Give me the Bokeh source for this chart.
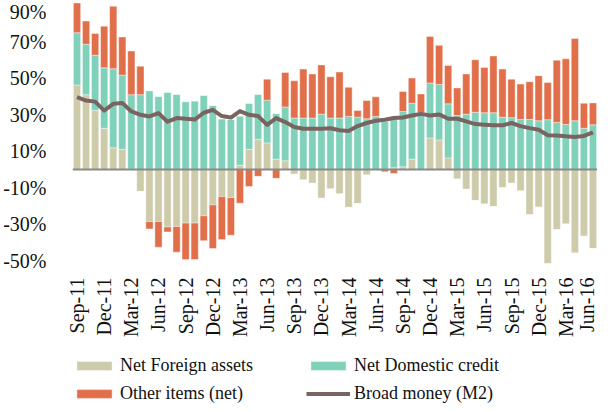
import numpy as np
from math import pi
from bokeh.plotting import figure
from bokeh.layouts import column
from bokeh.models import (FixedTicker, Span, Legend, LegendItem, Range1d,
                          PrintfTickFormatter, ColumnDataSource)
from bokeh.embed import file_html
from bokeh.resources import INLINE

months = ["Sep-11", "Oct-11", "Nov-11", "Dec-11", "Jan-12", "Feb-12", "Mar-12", "Apr-12",
          "May-12", "Jun-12", "Jul-12", "Aug-12", "Sep-12", "Oct-12", "Nov-12", "Dec-12",
          "Jan-13", "Feb-13", "Mar-13", "Apr-13", "May-13", "Jun-13", "Jul-13", "Aug-13",
          "Sep-13", "Oct-13", "Nov-13", "Dec-13", "Jan-14", "Feb-14", "Mar-14", "Apr-14",
          "May-14", "Jun-14", "Jul-14", "Aug-14", "Sep-14", "Oct-14", "Nov-14", "Dec-14",
          "Jan-15", "Feb-15", "Mar-15", "Apr-15", "May-15", "Jun-15", "Jul-15", "Aug-15",
          "Sep-15", "Oct-15", "Nov-15", "Dec-15", "Jan-16", "Feb-16", "Mar-16", "Apr-16",
          "May-16", "Jun-16"]

net_foreign = [46.3, 41.0, 32.3, 22.6, 11.9, 11.1, 0.3, -12.0, -28.4, -28.4, -31.4, -31.1,
               -29.3, -29.3, -25.3, -19.3, -14.8, -15.3, 2.4, 11.1, 16.6, 14.6, 5.7, 4.8,
               -2.6, -5.7, -7.5, -15.7, -10.6, -13.3, -20.7, -18.6, -3.0, 0.0, 0.0, 1.0,
               1.5, 5.7, 0.0, 17.3, 16.2, 6.4, -5.2, -10.8, -16.9, -18.9, -20.2, -9.9,
               -7.5, -11.7, -24.7, -20.6, -51.5, -32.9, -29.8, -45.7, -36.5, -43.2]

net_domestic = [28.6, 27.6, 30.3, 33.1, 43.3, 40.6, 40.7, 41.0, 43.2, 40.1, 42.3, 41.2,
                37.2, 37.6, 40.7, 35.1, 27.8, 27.4, 26.9, 25.2, 24.6, 23.4, 25.0, 29.5,
                28.2, 28.2, 28.2, 30.3, 28.2, 28.2, 29.1, 28.7, 27.8, 29.1, 26.4, 26.4,
                30.3, 30.6, 31.1, 30.1, 30.4, 29.6, 29.6, 30.3, 31.4, 31.1, 31.1, 28.7,
                28.4, 27.4, 27.4, 26.7, 27.3, 25.8, 24.7, 26.7, 22.6, 24.5]

other_items = [16.3, 12.7, 11.9, 22.8, 34.2, 20.9, 23.9, 15.6, -4.1, -14.1, -2.7, -14.1,
               -19.9, -19.9, -13.6, -23.9, -23.5, -20.6, -18.4, -9.3, -3.7, 11.5, -4.8, 18.9,
               20.4, 26.8, 24.1, 27.0, 22.6, 25.2, 15.9, 3.6, 10.0, 10.7, -1.2, -2.1,
               11.0, 13.8, 10.3, 25.5, 21.4, 21.0, 15.1, 22.0, 28.7, 24.8, 31.1, 26.3,
               21.1, 19.4, 20.7, 24.7, 20.4, 34.1, 35.9, 45.0, 13.7, 12.0]

broad_money = [39.6, 37.8, 37.2, 32.3, 36.0, 36.5, 31.8, 30.0, 29.1, 30.9, 26.2, 28.2,
               27.8, 27.4, 31.1, 32.7, 29.3, 28.5, 32.0, 30.0, 29.3, 24.5, 28.2, 26.0,
               23.3, 22.4, 22.4, 22.4, 22.6, 21.5, 21.1, 23.8, 25.5, 26.7, 27.3, 28.2,
               28.5, 29.6, 30.5, 29.6, 30.2, 27.8, 27.8, 26.4, 24.9, 24.5, 24.2, 24.2,
               25.5, 23.8, 22.7, 21.8, 18.8, 18.6, 18.2, 17.8, 18.4, 20.4]

series_names = ["Net Foreign assets", "Net Domestic credit", "Other items (net)", "Broad money (M2)"]
y_ticks = [-50, -30, -10, 10, 30, 50, 70, 90]

C_NFA = "#CDCBAA"
C_NDC = "#7FD1B9"
C_OTH = "#E06F4A"
C_M2 = "#7A6462"
FONT = "Liberation Serif"
TXT = "#111111"

x = np.arange(len(months))
nfa = np.array(net_foreign)
ndc = np.array(net_domestic)
oth = np.array(other_items)

nfa_pos = np.clip(nfa, 0, None)
nfa_neg = np.clip(nfa, None, 0)
ndc_top = nfa_pos + ndc
oth_pos_top = ndc_top + np.clip(oth, 0, None)
oth_neg_top = nfa_neg + np.clip(oth, None, 0)

src = ColumnDataSource(dict(x=x, nfa_pos=nfa_pos, nfa_neg=nfa_neg, ndc_top=ndc_top,
                            oth_pos_top=oth_pos_top, oth_neg_top=oth_neg_top,
                            m2=np.array(broad_money)))

W = 597
bw = 0.8
lw = dict(line_color="white", line_width=0.6, line_alpha=0.7)


def draw_series(fig):
    r1 = fig.vbar(x="x", bottom=0, top="nfa_pos", width=bw, fill_color=C_NFA, source=src, **lw)
    fig.vbar(x="x", bottom=0, top="nfa_neg", width=bw, fill_color=C_NFA, source=src, **lw)
    r2 = fig.vbar(x="x", bottom="nfa_pos", top="ndc_top", width=bw, fill_color=C_NDC, source=src, **lw)
    r3 = fig.vbar(x="x", bottom="ndc_top", top="oth_pos_top", width=bw, fill_color=C_OTH, source=src, **lw)
    fig.vbar(x="x", bottom="nfa_neg", top="oth_neg_top", width=bw, fill_color=C_OTH, source=src, **lw)
    return r1, r2, r3


p = figure(width=W, height=345, output_backend="svg", toolbar_location=None,
           x_range=Range1d(-0.5, len(months) - 0.5), y_range=Range1d(-52.5, 92),
           min_border_left=0, min_border_right=0, min_border_top=1, min_border_bottom=80)
p.outline_line_color = None
p.grid.visible = False
p.background_fill_color = "white"

draw_series(p)
p.add_layout(Span(location=0, dimension="width", line_color="#8A8A8A", line_width=2))
p.line(x="x", y="m2", source=src, line_color=C_M2, line_width=4, line_join="round")

p.yaxis.ticker = FixedTicker(ticks=y_ticks)
p.yaxis.formatter = PrintfTickFormatter(format="%d%%")
p.yaxis.axis_line_color = None
p.yaxis.major_tick_line_color = None
p.yaxis.minor_tick_line_color = None
p.yaxis.major_label_text_font = FONT
p.yaxis.major_label_text_font_size = "20px"
p.yaxis.major_label_text_color = TXT
p.yaxis.major_label_standoff = 20

p.xaxis.ticker = FixedTicker(ticks=list(range(0, len(months), 3)))
p.xaxis.major_label_overrides = {i: months[i] for i in range(0, len(months), 3)}
p.xaxis.major_label_orientation = pi / 2
p.xaxis.axis_line_color = None
p.xaxis.major_tick_line_color = None
p.xaxis.minor_tick_line_color = None
p.xaxis.major_label_text_font = FONT
p.xaxis.major_label_text_font_size = "20px"
p.xaxis.major_label_text_color = TXT
p.xaxis.major_label_standoff = 6

# legend strip: same series, plotted out of view so only the legend shows
q = figure(width=W, height=59, output_backend="svg", toolbar_location=None,
           x_range=Range1d(-0.5, len(months) - 0.5), y_range=Range1d(1000, 1001),
           x_axis_location=None, y_axis_location=None,
           min_border_left=0, min_border_right=0, min_border_top=0, min_border_bottom=0)
q.outline_line_color = None
q.grid.visible = False
g_nfa, g_ndc, g_oth = draw_series(q)
g_m2 = q.line(x="x", y="m2", source=src, line_color=C_M2, line_width=4)

legend = Legend(items=[LegendItem(label=series_names[0], renderers=[g_nfa]),
                       LegendItem(label=series_names[1], renderers=[g_ndc]),
                       LegendItem(label=series_names[2], renderers=[g_oth]),
                       LegendItem(label=series_names[3], renderers=[g_m2])],
                orientation="horizontal", ncols=2,
                location=(0, 0),
                label_text_font=FONT, label_text_font_size="18px",
                label_text_color=TXT,
                glyph_width=44, glyph_height=11, label_standoff=4,
                label_width=179, label_height=20, spacing=7, padding=0, margin=0,
                border_line_color=None, background_fill_alpha=0)
q.add_layout(legend, "center")

layout = column(p, q, spacing=0)
open("out.html", "w").write(file_html(layout, INLINE))
